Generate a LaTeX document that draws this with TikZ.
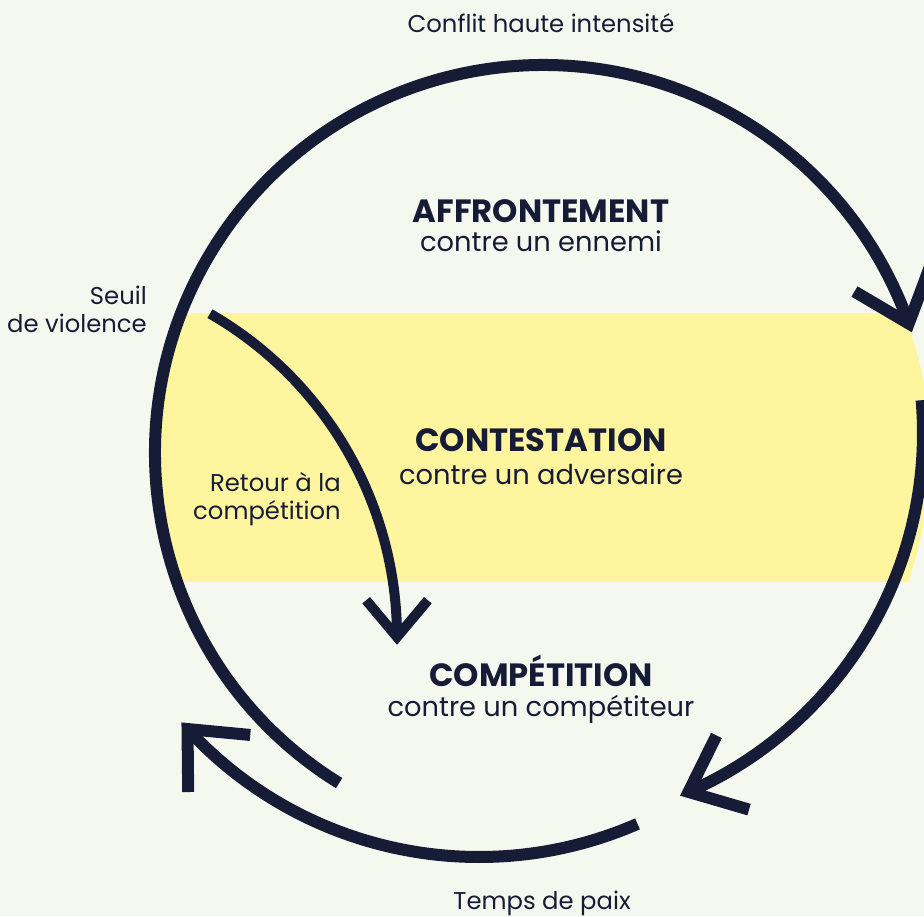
\documentclass[tikz,border=0pt]{standalone}
\usepackage{fontspec}
\setmainfont{Poppins}
\usetikzlibrary{calc}
\definecolor{bg}{HTML}{F5F8EF}
\definecolor{band}{HTML}{FFF59E}
\definecolor{navy}{HTML}{171C36}
\begin{document}
\begin{tikzpicture}[x=1pt,y=1pt,
  ring/.style={draw=navy, line width=12pt, line cap=butt},
  chev/.style={draw=navy, line width=12pt, line join=miter, miter limit=10, line cap=butt},
  inner/.style={draw=navy, line width=10pt, line cap=butt},
  ichev/.style={draw=navy, line width=10pt, line join=miter, miter limit=10, line cap=butt},
  title/.style={text=navy, font=\fontsize{32.2}{38}\selectfont\bfseries, anchor=base, inner sep=0pt},
  sub/.style={text=navy, font=\fontsize{27.3}{32}\selectfont, anchor=base, inner sep=0pt},
  lbl/.style={text=navy, font=\fontsize{24.3}{29}\selectfont, anchor=base, inner sep=0pt},
  lblr/.style={lbl, anchor=base east}]
\useasboundingbox (0,-916) rectangle (924,0);
\fill[bg] (0,-916) rectangle (924,0);
\clip (0,-916) rectangle (924,0);
\coordinate (cA) at (543,-453);
\coordinate (cB) at (531,-433);
\coordinate (cC) at (479,-461);
\coordinate (cI) at (24,-637);
\begin{scope}
  \clip (cA) circle[radius=387];
  \fill[band] (0,-313) rectangle (940,-582);
\end{scope}
% arc A
\draw[ring] ($(cA)+(238.3:388)$) arc[start angle=238.3, end angle=19.5, radius=388] coordinate (tipA);
\draw[chev] ($(tipA)+(149.5:63)$) -- (tipA) -- ($(tipA)+(69.5:63)$);
% arc B
\draw[ring] ($(cB)+(4.8:392)$) arc[start angle=4.8, end angle=-66.3, radius=392] coordinate (tipB);
\draw[chev] ($(tipB)+(63.7:63)$) -- (tipB) -- ($(tipB)+(-16.3:63)$);
% arc C
\draw[ring] ($(cC)+(-66.4:396)$) arc[start angle=-66.4, end angle=-137.4, radius=396] coordinate (tipC);
\draw[chev] ($(tipC)+(-5.4:63)$) -- (tipC) -- ($(tipC)+(-89.4:63)$);
% inner arrow
\draw[inner] ($(cI)+(60.1:373)$) arc[start angle=60.1, end angle=0, radius=373] coordinate (tipI);
\draw[ichev] ($(tipI)+(130:48)$) -- (tipI) -- ($(tipI)+(50:48)$);
% texts
\node[lbl] (conflit) at (541,-32) {Conflit haute intensité};
\node[title] (affT) at (541,-222) {AFFRONTEMENT};
\node[sub] (affS) at (541,-251) {contre un ennemi};
\node[lblr] (seuil1) at (147,-304) {Seuil};
\node[lblr] (seuil2) at (147,-332) {de violence};
\node[title] (conT) at (541,-451) {CONTESTATION};
\node[sub] (conS) at (541,-484) {contre un adversaire};
\node[lblr] (ret1) at (341,-491) {Retour à la};
\node[lblr] (ret2) at (341,-519) {compétition};
\node[title] (comT) at (541,-686) {COMPÉTITION};
\node[sub] (comS) at (541,-716) {contre un compétiteur};
\node[lbl] (paix) at (542,-909) {Temps de paix};
\end{tikzpicture}
\end{document}
